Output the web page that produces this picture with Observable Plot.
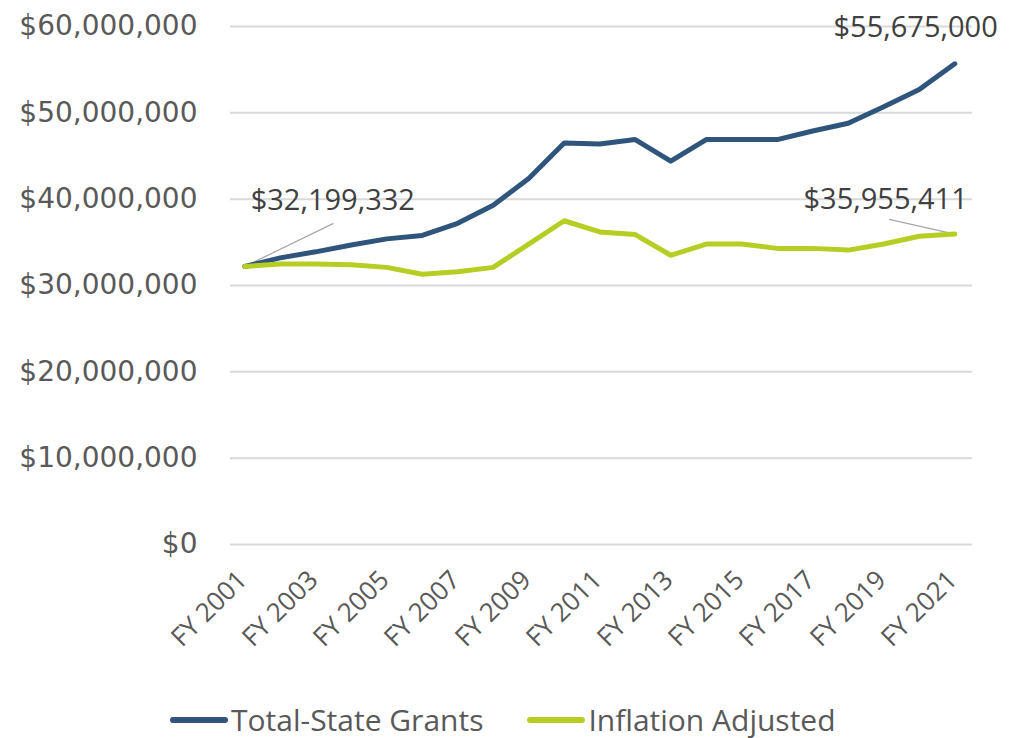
<!DOCTYPE html>
<html><head><meta charset="utf-8">
<script src="https://cdn.jsdelivr.net/npm/d3@7"></script>
<script src="https://cdn.jsdelivr.net/npm/@observablehq/plot@0.6"></script>
<style>
body{margin:0;background:#fff;font-family:"Open Sans",sans-serif;overflow:hidden;}
#chart svg{display:block;}
#legend{display:flex;align-items:center;height:40px;line-height:40px;padding-left:170px;color:#595959;font-size:30px;}
.item{display:flex;align-items:center;}
.sw{width:58px;height:6px;border-radius:3px;margin-right:3px;}
</style></head><body>
<div id="chart"></div>
<div id="legend"></div>
<script>
const years = [2001,2002,2003,2004,2005,2006,2007,2008,2009,2010,2011,2012,2013,2014,2015,2016,2017,2018,2019,2020,2021];
const totalGrants = [32199332,33200000,33900000,34700000,35400000,35800000,37200000,39300000,42400000,46500000,46400000,46900000,44400000,46900000,46900000,46900000,47900000,48800000,50700000,52700000,55675000];
const inflationAdjusted = [32199332,32500000,32500000,32400000,32100000,31300000,31600000,32100000,34800000,37500000,36200000,35900000,33500000,34800000,34800000,34300000,34300000,34100000,34800000,35700000,35955411];
const seriesNames = ["Total-State Grants","Inflation Adjusted"];
const seriesColors = ["#2F557C","#B6CD24"];
const xTicks = [2001,2003,2005,2007,2009,2011,2013,2015,2017,2019,2021];
const yTicks = [0,10000000,20000000,30000000,40000000,50000000,60000000];
// annotations: anchor point, optional leader end (data units)
const annoLabels = ["$32,199,332","$55,675,000","$35,955,411"];
const annoYear = [2001,2021,2021];
const annoValue = [32199332,55675000,35955411];
const leaderYear = [2003.5,null,2019.15];
const leaderValue = [37200000,null,37650000];

const rows = [];
years.forEach((y,i)=>{
  rows.push({year:y,value:totalGrants[i],series:seriesNames[0]});
});
years.forEach((y,i)=>{
  rows.push({year:y,value:inflationAdjusted[i],series:seriesNames[1]});
});
const annos = annoLabels.map((t,i)=>({label:t,year:annoYear[i],value:annoValue[i],ly:leaderYear[i],lv:leaderValue[i]}));
const leaders = annos.filter(d=>d.ly!=null);
const fmt = d3.format(",");

const chart = Plot.plot({
  width:1014, height:700,
  marginTop:26, marginBottom:156, marginLeft:230, marginRight:42,
  style:{fontFamily:"'Open Sans', sans-serif", background:"#fff", color:"#595959"},
  x:{type:"linear", domain:[2000.6,2021.5]},
  y:{domain:[0,60000000]},
  color:{domain:seriesNames, range:seriesColors},
  marks:[
    Plot.gridY(yTicks,{stroke:"#d9d9d9", strokeOpacity:1, strokeWidth:2}),
    Plot.axisY(yTicks,{tickSize:0, tickPadding:0, dx:-33, fontSize:28, fontFamily:"DejaVu Sans", fill:"#595959", label:null,
      tickFormat:d=>"$"+fmt(d)}),
    Plot.axisX(xTicks,{tickSize:0, tickPadding:0, dx:-2, dy:31, tickRotate:-45, fontSize:26, fill:"#595959", label:null,
      tickFormat:d=>"FY "+d}),
    Plot.link(leaders,{x1:"year",y1:"value",x2:"ly",y2:"lv",stroke:"#a6a6a6",strokeWidth:1.2}),
    Plot.line(rows,{x:"year",y:"value",stroke:"series",strokeWidth:5,strokeLinejoin:"round",strokeLinecap:"round"}),
    Plot.text([annos[0]],{x:"year",y:"value",text:"label",textAnchor:"start",dx:6,dy:-66,fontSize:29,fill:"#404040"}),
    Plot.text([annos[1]],{x:"year",y:"value",text:"label",textAnchor:"end",dx:43,dy:-36,fontSize:29,fill:"#404040"}),
    Plot.text([annos[2]],{x:"year",y:"value",text:"label",textAnchor:"end",dx:13,dy:-34,fontSize:29,fill:"#404040"})
  ]
});
document.getElementById("chart").appendChild(chart);

const legend = document.getElementById("legend");
seriesNames.forEach((n,i)=>{
  const it = document.createElement("div");
  it.className="item";
  if(i>0) it.style.marginLeft="44px";
  const sw = document.createElement("div");
  sw.className="sw"; sw.style.background=seriesColors[i];
  const tx = document.createElement("span");
  tx.textContent=n;
  it.appendChild(sw); it.appendChild(tx);
  legend.appendChild(it);
});
</script>
</body></html>
